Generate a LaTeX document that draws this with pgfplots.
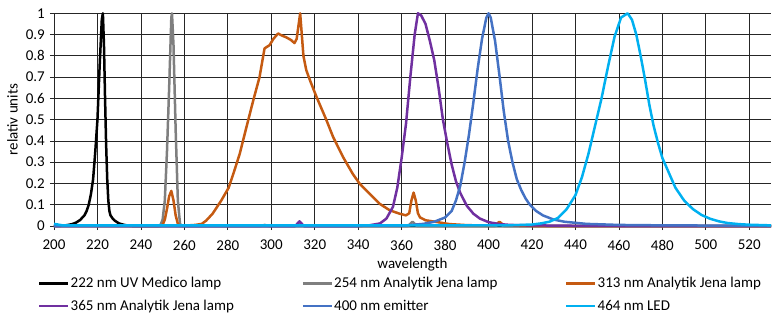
\documentclass[border=0pt]{standalone}
\usepackage{fontspec}
\setmainfont{Carlito}
\usepackage{pgfplots}
\pgfplotsset{compat=1.18}
\definecolor{cblack}{HTML}{000000}
\definecolor{cgray}{HTML}{7F7F7F}
\definecolor{corange}{HTML}{C55A11}
\definecolor{cpurple}{HTML}{7030A0}
\definecolor{cblue}{HTML}{4472C4}
\definecolor{clight}{HTML}{00B0F0}
\newcommand{\lent}[1]{\makebox[230bp][l]{#1}}
\begin{document}
\fontsize{15bp}{18bp}\selectfont
\begin{tikzpicture}
\begin{axis}[
  scale only axis, width=717bp, height=212.7bp,
  xmin=200, xmax=530, ymin=0, ymax=1,
  xtick={200,220,...,520},
  ytick={0,0.1,0.2,0.3,0.4,0.5,0.6,0.7,0.8,0.9,1},
  yticklabels={0,0.1,0.2,0.3,0.4,0.5,0.6,0.7,0.8,0.9,1},
  /pgf/number format/assume math mode=true,
  /pgf/number format/1000 sep={},
  tick label style={font=\fontsize{15bp}{18bp}\selectfont},
  xticklabel style={yshift=-5bp},
  label style={font=\fontsize{15bp}{18bp}\selectfont},
  grid=major, major grid style={black!85, line width=0.75bp},
  axis lines*=left, axis line style={black!85, line width=0.75bp},
  tick style={black!85, line width=0.75bp}, tick align=outside, major tick length=4bp,
  xlabel={wavelength}, ylabel={relativ units},
  xlabel style={yshift=3bp},
  ylabel style={yshift=-2bp},
  clip=false,
  every axis plot/.append style={line width=2.5bp, line join=round,
    legend image code/.code={\draw[##1] (0bp,0bp) -- (29bp,0bp);}},
  legend style={at={(axis description cs:0,0)}, anchor=north west, xshift=-16bp, yshift=-50bp,
    draw=none, fill=none, legend columns=3, column sep=0bp,
    nodes={inner sep=1bp},
    font=\fontsize{15bp}{18bp}\selectfont, row sep=8bp, inner sep=0pt},
  legend cell align=left,
]
\addplot[cblack] coordinates {
(200,0) (203,0.001) (206,0.004) (208,0.008) (210,0.015) (212,0.028) (214,0.05) (215,0.07)
(216,0.1) (217,0.15) (218,0.22) (219,0.35) (220,0.5) (221,0.75) (222,0.97) (222.5,1)
(223,0.85) (223.5,0.6) (224,0.38) (224.5,0.22) (225,0.12) (225.5,0.07) (226,0.05) (227,0.035)
(228,0.025) (229,0.018) (230,0.012) (232,0.006) (234,0.002) (236,0) (530,0)};
\addlegendentry{\lent{222 nm UV Medico lamp}}
\addplot[cgray] coordinates {
(200,0) (248,0) (249,0.005) (250,0.03) (251,0.12) (252,0.35) (253,0.65) (254,0.98) (254.3,1)
(255,0.85) (256,0.45) (257,0.12) (258,0.01) (259,0) (295,0) (297,0.005) (299,0) (311,0)
(313,0.015) (315,0) (363,0) (365,0.02) (367,0) (403,0) (405,0.008) (407,0) (530,0)};
\addlegendentry{\lent{254 nm Analytik Jena lamp}}
\addplot[corange] coordinates {
(200,0) (249,0) (250,0.005) (251,0.03) (252,0.08) (253,0.14) (254,0.165) (255,0.12) (256,0.05)
(257,0.01) (258,0) (262,0.003) (265,0.005) (268,0.01) (270,0.025) (273,0.058) (277,0.12)
(280.4,0.18) (283,0.26) (285.5,0.34) (288.6,0.466) (291.7,0.59) (294.6,0.70) (296.9,0.835)
(299.2,0.85) (301,0.88) (303.1,0.905) (305,0.895) (306.9,0.887) (309,0.875) (310.7,0.86)
(311.7,0.88) (313.3,1.0) (314.8,0.8) (316.1,0.733) (318,0.68) (320.7,0.61) (323,0.555)
(325.3,0.50) (328.4,0.42) (333,0.325) (337.5,0.245) (340.6,0.20) (345.2,0.152) (349.8,0.105)
(354.5,0.074) (359,0.058) (362,0.05) (363.5,0.06) (364.5,0.12) (365.5,0.157) (366.5,0.12)
(367.5,0.06) (368.5,0.04) (371,0.027) (376,0.019) (382,0.009) (390,0.004) (400,0.002)
(403,0.004) (405,0.02) (407,0.004) (410,0.002) (420,0) (530,0)};
\addlegendentry{313 nm Analytik Jena lamp}
\addplot[cpurple] coordinates {
(200,0) (311,0) (313,0.022) (315,0) (340,0) (345,0.003) (350,0.012) (353,0.035) (356,0.09)
(358,0.18) (360,0.32) (362,0.48) (364,0.7) (366,0.9) (367.5,1.0) (369,0.99) (371,0.95)
(373,0.87) (375,0.78) (377,0.65) (379,0.5) (381,0.39) (383,0.29) (385,0.21) (387,0.155)
(390,0.095) (393,0.058) (396,0.035) (400,0.018) (405,0.009) (410,0.005) (420,0.003)
(440,0.001) (460,0) (530,0)};
\addlegendentry{\lent{365 nm Analytik Jena lamp}}
\addplot[cblue] coordinates {
(200,0) (340,0) (360,0.001) (370,0.01) (375,0.02) (380,0.04) (383,0.07) (385,0.12) (387,0.19)
(389,0.3) (391,0.43) (393,0.58) (395,0.74) (397,0.88) (399,0.98) (400,1.0) (401,0.98)
(403,0.87) (405,0.71) (407,0.54) (409,0.4) (411,0.3) (413,0.22) (415,0.17) (417,0.13)
(419,0.1) (422,0.07) (425,0.05) (430,0.03) (435,0.02) (445,0.01) (460,0.005) (480,0.003)
(530,0.001)};
\addlegendentry{\lent{400 nm emitter}}
\addplot[clight] coordinates {
(200,0.01) (204,0.003) (410,0.003) (420,0.007) (424,0.012) (428,0.02) (432,0.038) (436,0.08)
(440,0.145) (443,0.23) (446,0.34) (449,0.47) (452,0.6) (455,0.75) (458,0.89) (461,0.98)
(464,1.0) (466,0.97) (468,0.9) (470,0.8) (472,0.69) (474,0.57) (476,0.47) (478,0.39)
(480,0.32) (483,0.25) (486,0.18) (490,0.12) (494,0.08) (498,0.052) (502,0.034) (506,0.022)
(510,0.014) (515,0.009) (520,0.006) (530,0.003)};
\addlegendentry{464 nm LED}
\end{axis}
\pgfresetboundingbox
\path ([shift={(-54bp,-92bp)}]current axis.south west) rectangle ([shift={(9bp,13.3bp)}]current axis.north east);
\end{tikzpicture}
\end{document}
